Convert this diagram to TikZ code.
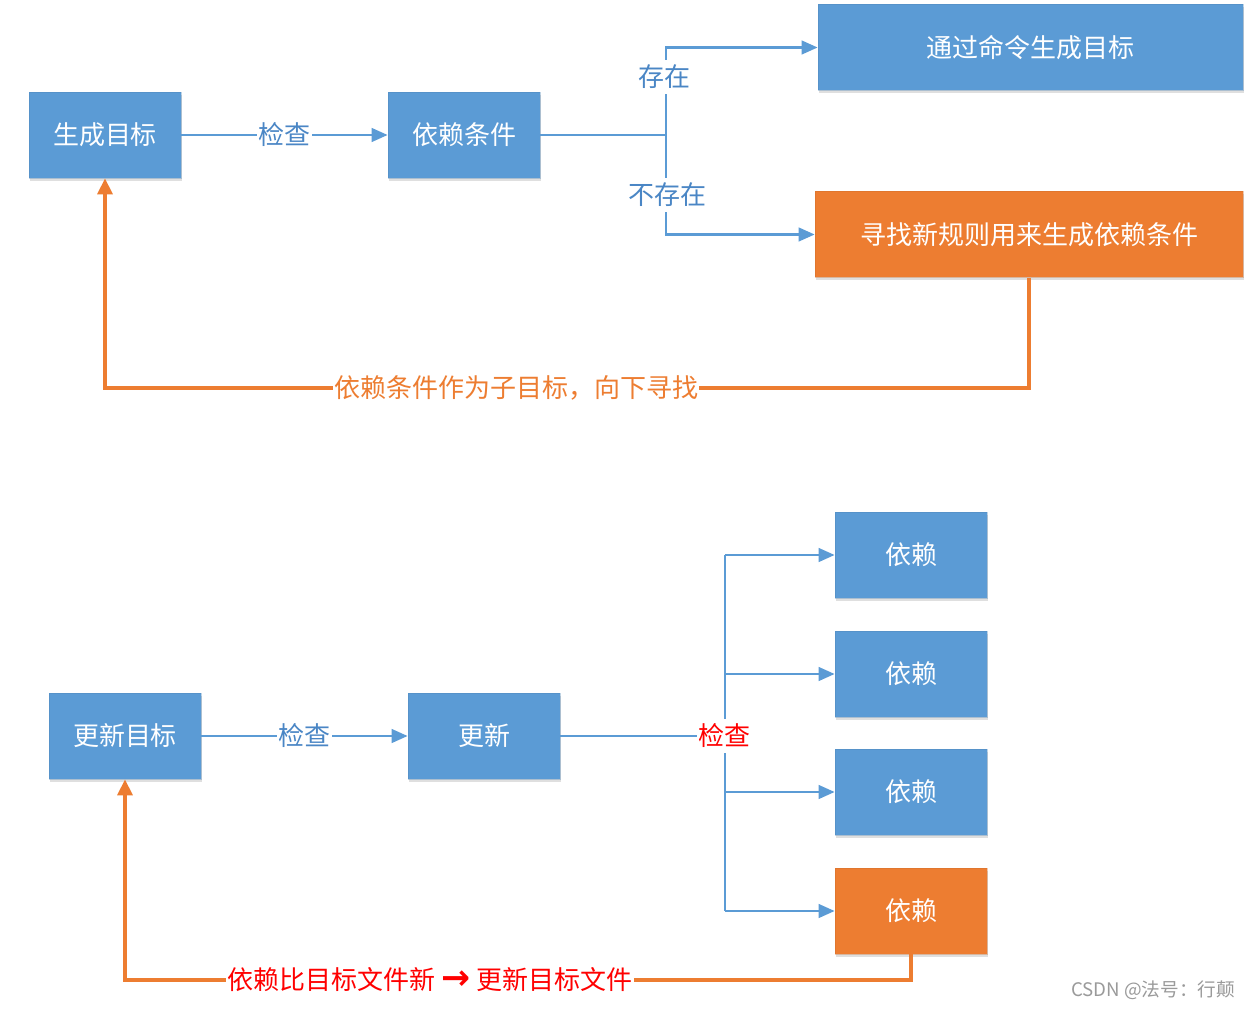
\documentclass[tikz,border=0pt]{standalone}
\usepackage{fontspec}
\setmainfont{Noto Sans CJK SC}
\newfontfamily\wmfont{Noto Sans CJK SC}
\newfontfamily\arrowfont{DejaVu Sans}
\usetikzlibrary{arrows.meta,shadows}
\definecolor{boxblue}{HTML}{5B9BD5}
\definecolor{boxorange}{HTML}{ED7D31}
\definecolor{lineblue}{HTML}{5B9BD5}
\definecolor{lblblue}{HTML}{4A86C5}
\definecolor{wmgray}{HTML}{9A9A9A}
\begin{document}
\begin{tikzpicture}[x=0.75pt,y=-0.75pt,
  box/.style={draw=#1!85!black, draw opacity=0.35, fill=#1, text=white, minimum height=64.5pt, inner sep=0pt,
     font=\fontsize{19.5}{22}\selectfont,
     drop shadow={shadow xshift=1pt, shadow yshift=-2pt, opacity=0.25, fill=gray}},
  bline/.style={draw=lineblue, line width=2.2pt},
  barrow/.style={bline, -{Triangle[length=12pt,width=10pt]}},
  oarrow/.style={draw=boxorange, line width=3pt, -{Triangle[length=12pt,width=11pt]}},
  lblbase/.style={fill=white, inner xsep=1pt, inner ysep=4pt, font=\fontsize{19.5}{22}\selectfont},
  lbl/.style={lblbase, text=lblblue},
  olbl/.style={lblbase, text=boxorange},
  rlbl/.style={lblbase, text=red},
]
\useasboundingbox (0,0) rectangle (1254,1009);
\fill[white] (0,0) rectangle (1254,1009);

% ---------- top diagram ----------
\node[box=boxblue, minimum width=114pt] (gen) at (105,135) {生成目标};
\node[box=boxblue, minimum width=114pt] (dep) at (464,135) {依赖条件};
\node[box=boxblue, minimum width=318.75pt] (cmd) at (1030.5,47.5) {通过命令生成目标};
\node[box=boxorange, minimum width=321pt] (rule) at (1029,234.5) {寻找新规则用来生成依赖条件};

\draw[barrow] (gen.east) -- node[lbl] {检查} (dep.west);
\coordinate (jt) at (666,135);
\draw[bline] (dep.east) -- (jt);
\draw[barrow] (jt) -- (jt |- cmd.west) -- (cmd.west);
\draw[barrow] (jt) -- (jt |- rule.west) -- (rule.west);
\node[lbl] (exist) at (664,77) {存在};
\node[lbl] (nexist) at (667,195) {不存在};

\coordinate (ob1) at (rule.south |- 0,388);
\draw[oarrow] (rule.south) -- (ob1) -- (gen.south |- ob1) -- (gen.south);
\node[olbl] (sub) at (516,388) {依赖条件作为子目标，向下寻找};

% ---------- bottom diagram ----------
\node[box=boxblue, minimum width=114pt] (ugt) at (125,736) {更新目标};
\node[box=boxblue, minimum width=114pt] (upd) at (484,736) {更新};
\node[box=boxblue, minimum width=114pt] (d1) at (911,555) {依赖};
\node[box=boxblue, minimum width=114pt] (d2) at (911,674) {依赖};
\node[box=boxblue, minimum width=114pt] (d3) at (911,792) {依赖};
\node[box=boxorange, minimum width=114pt] (d4) at (911,911) {依赖};

\draw[barrow] (ugt.east) -- node[lbl] {检查} (upd.west);
\coordinate (jb) at (725,736);
\draw[bline] (upd.east) -- (jb);
\draw[bline] (jb |- d1.west) -- (jb |- d4.west);
\draw[barrow] (jb |- d1.west) -- (d1.west);
\draw[barrow] (jb |- d2.west) -- (d2.west);
\draw[barrow] (jb |- d3.west) -- (d3.west);
\draw[barrow] (jb |- d4.west) -- (d4.west);
\node[rlbl] (chk) at (724,736) {检查};

\coordinate (ob2) at (d4.south |- 0,980);
\draw[oarrow] (d4.south) -- (ob2) -- (ugt.south |- ob2) -- (ugt.south);
\node[rlbl] (newer) at (430,980) {依赖比目标文件新 {\arrowfont\bfseries\fontsize{26}{22}\selectfont →} 更新目标文件};

\node[text=wmgray, font=\wmfont\fontsize{14}{16}\selectfont, anchor=east] (wm) at (1240,990) {CSDN @法号：行颠};
\end{tikzpicture}
\end{document}
